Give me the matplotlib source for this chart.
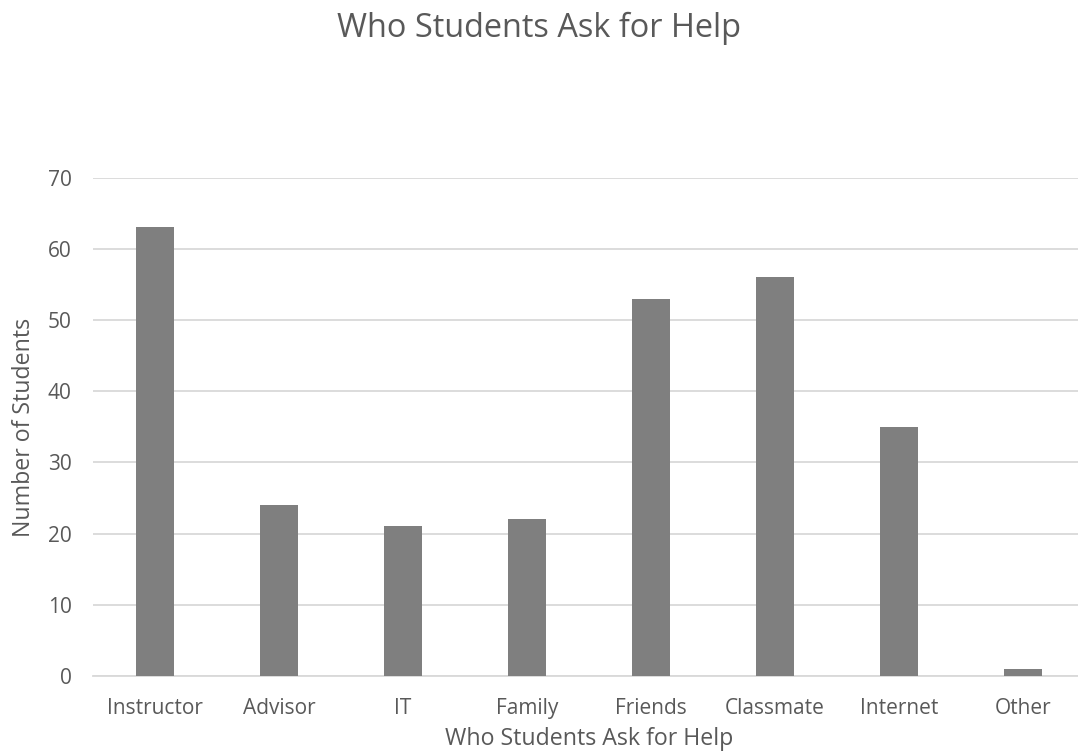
import matplotlib.pyplot as plt

categories = ["Instructor", "Advisor", "IT", "Family", "Friends", "Classmate", "Internet", "Other"]
students = [63, 24, 21, 22, 53, 56, 35, 1]
y_ticks = [0, 10, 20, 30, 40, 50, 60, 70]

plt.rcParams["font.family"] = ["Open Sans", "DejaVu Sans"]
text_color = "#595959"
grid_color = "#d9d9d9"

fig = plt.figure(figsize=(10.78, 7.56), dpi=100)
# plot area runs slightly past the right edge of the canvas
ax = fig.add_axes([0.0863, 0.1058, 0.920, 0.6594])

x = range(len(categories))
ax.bar(x, students, width=0.306, color="#7f7f7f", zorder=3)

ax.set_xlim(-0.5, len(categories) - 0.5)
ax.set_ylim(0, 70)
ax.set_yticks(y_ticks)
ax.set_xticks(list(x))
ax.set_xticklabels(categories)
ax.tick_params(axis="both", length=0, labelsize=15, colors=text_color)
ax.tick_params(axis="x", pad=16)
ax.tick_params(axis="y", pad=15.5)

ax.grid(axis="y", color=grid_color, linewidth=1.3, zorder=0)
for side in ["top", "right", "left"]:
    ax.spines[side].set_visible(False)
ax.spines["bottom"].set_color(grid_color)
ax.spines["bottom"].set_linewidth(1.3)

fig.text(0.0225, 0.435, "Number of Students", rotation=90, ha="center", va="center",
         fontsize=16.7, color=text_color)
fig.text(0.5464, 0.006, "Who Students Ask for Help", ha="center", va="bottom",
         fontsize=16.7, color=text_color)
fig.text(0.5, 0.963, "Who Students Ask for Help", ha="center", va="center",
         fontsize=23.4, color=text_color)

fig.savefig("out.png", dpi=100, facecolor="white")
